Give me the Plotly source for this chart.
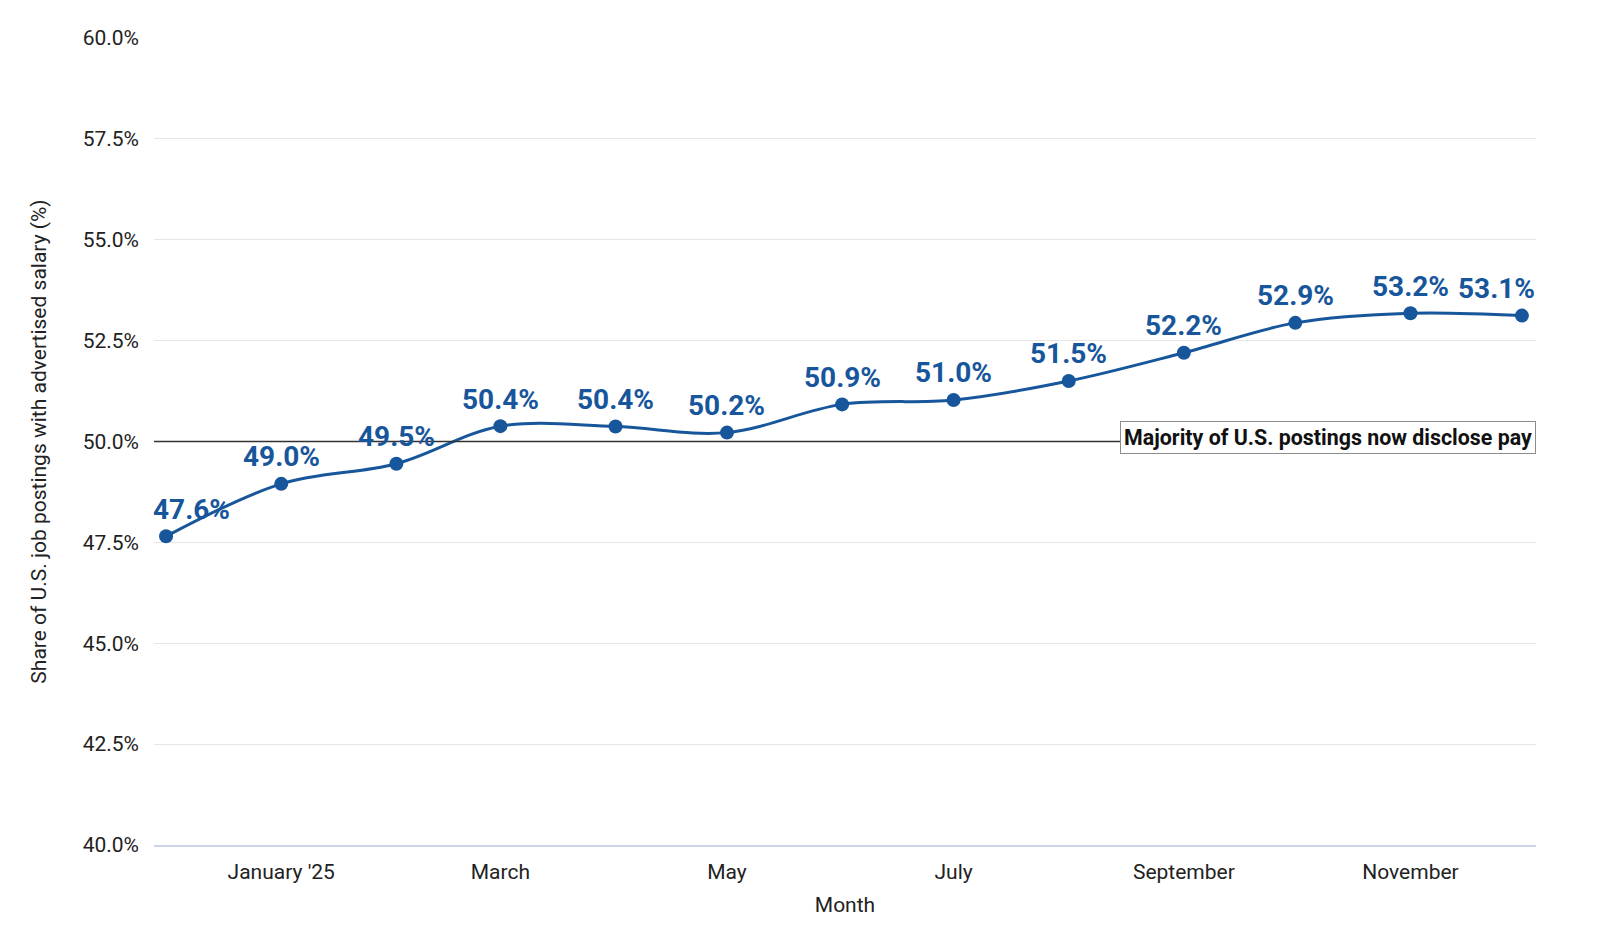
import plotly.graph_objects as go

months = ["2024-12-01", "2025-01-01", "2025-02-01", "2025-03-01", "2025-04-01",
          "2025-05-01", "2025-06-01", "2025-07-01", "2025-08-01", "2025-09-01",
          "2025-10-01", "2025-11-01", "2025-12-01"]
share = [47.65, 48.95, 49.45, 50.38, 50.37, 50.22, 50.92, 51.03, 51.5, 52.2, 52.94, 53.18, 53.12]
labels = ["47.6%", "49.0%", "49.5%", "50.4%", "50.4%", "50.2%", "50.9%", "51.0%",
          "51.5%", "52.2%", "52.9%", "53.2%", "53.1%"]
tick_vals = ["2025-01-01", "2025-03-01", "2025-05-01", "2025-07-01", "2025-09-01", "2025-11-01"]
tick_text = ["January '25", "March", "May", "July", "September", "November"]
y_ticks = [40.0, 42.5, 45.0, 47.5, 50.0, 52.5, 55.0, 57.5, 60.0]
threshold = 50.0
threshold_label = "Majority of U.S. postings now disclose pay"

color = "#17569b"
font = "Roboto"
txt = "#222222"

fig = go.Figure()
fig.add_trace(go.Scatter(
    x=months, y=share, mode="lines+markers",
    line=dict(color=color, width=3, shape="spline", smoothing=1.0),
    marker=dict(color=color, size=14),
    hoverinfo="x+y", showlegend=False,
))

annotations = []
n = len(months)
for i, (m, v, t) in enumerate(zip(months, share, labels)):
    xs = 0
    if i == 0:
        xs = 25
    elif i == n - 1:
        xs = -25
    annotations.append(dict(
        x=m, y=v, xref="x", yref="y", text="<b>%s</b>" % t, showarrow=False,
        xanchor="center", yanchor="middle", yshift=27, xshift=xs,
        font=dict(family=font, size=28, color=color),
    ))

annotations.append(dict(
    x=1, y=threshold, xref="paper", yref="y", text="<b>%s</b>" % threshold_label,
    showarrow=False, xanchor="right", yanchor="middle", yshift=4,
    font=dict(family=font, size=21.4, color="#111111"),
    bgcolor="white", bordercolor="#8c8c8c", borderwidth=1, borderpad=3,
))

fig.add_shape(type="line", xref="paper", yref="y", x0=0, x1=1, y0=threshold, y1=threshold,
              line=dict(color="#333333", width=1.3), layer="above")

fig.update_layout(
    width=1600, height=947,
    margin=dict(l=154, r=64, t=38, b=102),
    paper_bgcolor="white", plot_bgcolor="white",
    font=dict(family=font, size=21, color=txt),
    annotations=annotations,
    xaxis=dict(
        type="date",
        range=["2024-11-27 18:00", "2025-12-04 19:00"],
        tickmode="array", tickvals=tick_vals, ticktext=tick_text,
        showgrid=False, showline=True, linecolor="#ccd6eb", linewidth=2,
        ticks="", ticklabelstandoff=7,
        tickfont=dict(family=font, size=21, color=txt),
        title=dict(text="Month", font=dict(family=font, size=21, color=txt), standoff=14),
        zeroline=False,
    ),
    yaxis=dict(
        range=[40, 60], tickmode="array", tickvals=y_ticks,
        ticktext=["%.1f%%" % v for v in y_ticks],
        showgrid=True, gridcolor="#e6e6e6", gridwidth=1,
        zeroline=False, showline=False, ticks="",
        ticklabelstandoff=14,
        tickfont=dict(family=font, size=21, color=txt),
        title=dict(text="Share of U.S. job postings with advertised salary (%)",
                   font=dict(family=font, size=21, color=txt), standoff=30),
    ),
)

fig.write_html("out.html", config={"displayModeBar": False},
               post_script="document.body.style.margin='0';document.body.style.overflow='hidden';")
